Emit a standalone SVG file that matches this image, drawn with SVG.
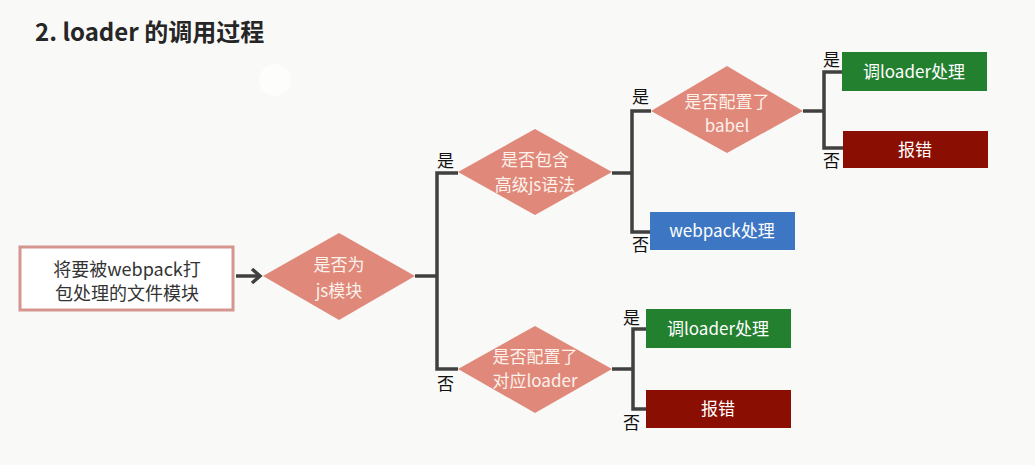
<svg xmlns="http://www.w3.org/2000/svg" width="1035" height="465" viewBox="0 0 1035 465">
<defs>
<style>
text{font-family:"Microsoft YaHei","Noto Sans CJK SC",sans-serif;}
.title{font-size:24px;font-weight:bold;fill:#262626;}
.dia{fill:#e0897a;}
.dt{font-size:17px;fill:#fdf1ec;text-anchor:middle;}
.bt{font-size:17px;fill:#ffffff;text-anchor:middle;}
.lb{font-size:17px;fill:#111111;}
.ln{fill:none;stroke:#404040;stroke-width:3.5;stroke-linejoin:miter;}
.green{fill:#23802f;}
.red{fill:#8a0e02;}
.blue{fill:#3d77c4;}
</style>
</defs>
<rect width="1035" height="465" fill="#f9f9f8"/>
<circle cx="275" cy="80" r="16" fill="#ffffff" opacity="0.6"/>
<text class="title" x="35" y="41">2. loader 的调用过程</text>

<g id="connectors">
<line class="ln" x1="236" y1="276" x2="258" y2="276"/>
<path d="M252,269 L260,276 L252,283" fill="none" stroke="#404040" stroke-width="3.5"/>
<polyline class="ln" points="415,276 437,276"/>
<polyline class="ln" points="458,173 437,173 437,369 458,369"/>
<polyline class="ln" points="612,173 632,173"/>
<polyline class="ln" points="651,111 632,111 632,232 651,232"/>
<polyline class="ln" points="803,111 824,111"/>
<polyline class="ln" points="842,72 824,72 824,148 843,148"/>
<polyline class="ln" points="612,369 633,369"/>
<polyline class="ln" points="646,329 633,329 633,409 646,409"/>
</g>

<g id="start">
<rect x="20" y="247" width="213" height="63" fill="#ffffff" stroke="#d5968f" stroke-width="3"/>
<text x="127" y="276" style="font-size:18px;fill:#333;text-anchor:middle">将要被webpack打</text>
<text x="127" y="300" style="font-size:18px;fill:#333;text-anchor:middle">包处理的文件模块</text>
</g>

<g id="d-js">
<polygon class="dia" points="263,276 339,233 415,276 339,320"/>
<text class="dt" x="339" y="271">是否为</text>
<text class="dt" x="339" y="297">js模块</text>
</g>

<g id="d-adv">
<polygon class="dia" points="458,172 535,129 612,172 535,215"/>
<text class="dt" x="535" y="166">是否包含</text>
<text class="dt" x="535" y="191">高级js语法</text>
<text class="lb" x="437" y="167">是</text>
<text class="lb" x="437" y="390">否</text>
</g>

<g id="d-babel">
<polygon class="dia" points="651,111 727,66 803,111 727,153"/>
<text class="dt" x="727" y="108">是否配置了</text>
<text class="dt" x="727" y="132">babel</text>
<text class="lb" x="632" y="103">是</text>
<text class="lb" x="632" y="251">否</text>
</g>

<g id="webpack">
<rect class="blue" x="650" y="212" width="145" height="38"/>
<text class="bt" x="722" y="237">webpack处理</text>
</g>

<g id="loader1">
<rect class="green" x="842" y="52" width="145" height="39"/>
<text class="bt" x="914" y="78">调loader处理</text>
<text class="lb" x="823" y="66">是</text>
</g>

<g id="err1">
<rect class="red" x="843" y="131" width="145" height="37"/>
<text class="bt" x="915" y="156">报错</text>
<text class="lb" x="823" y="167">否</text>
</g>

<g id="d-loader">
<polygon class="dia" points="458,369 535,326 612,369 535,413"/>
<text class="dt" x="535" y="363">是否配置了</text>
<text class="dt" x="535" y="387">对应loader</text>
</g>

<g id="loader2">
<rect class="green" x="646" y="309" width="145" height="39"/>
<text class="bt" x="718" y="335">调loader处理</text>
<text class="lb" x="623" y="324">是</text>
</g>

<g id="err2">
<rect class="red" x="646" y="390" width="145" height="38"/>
<text class="bt" x="718" y="415">报错</text>
<text class="lb" x="623" y="429">否</text>
</g>
</svg>
